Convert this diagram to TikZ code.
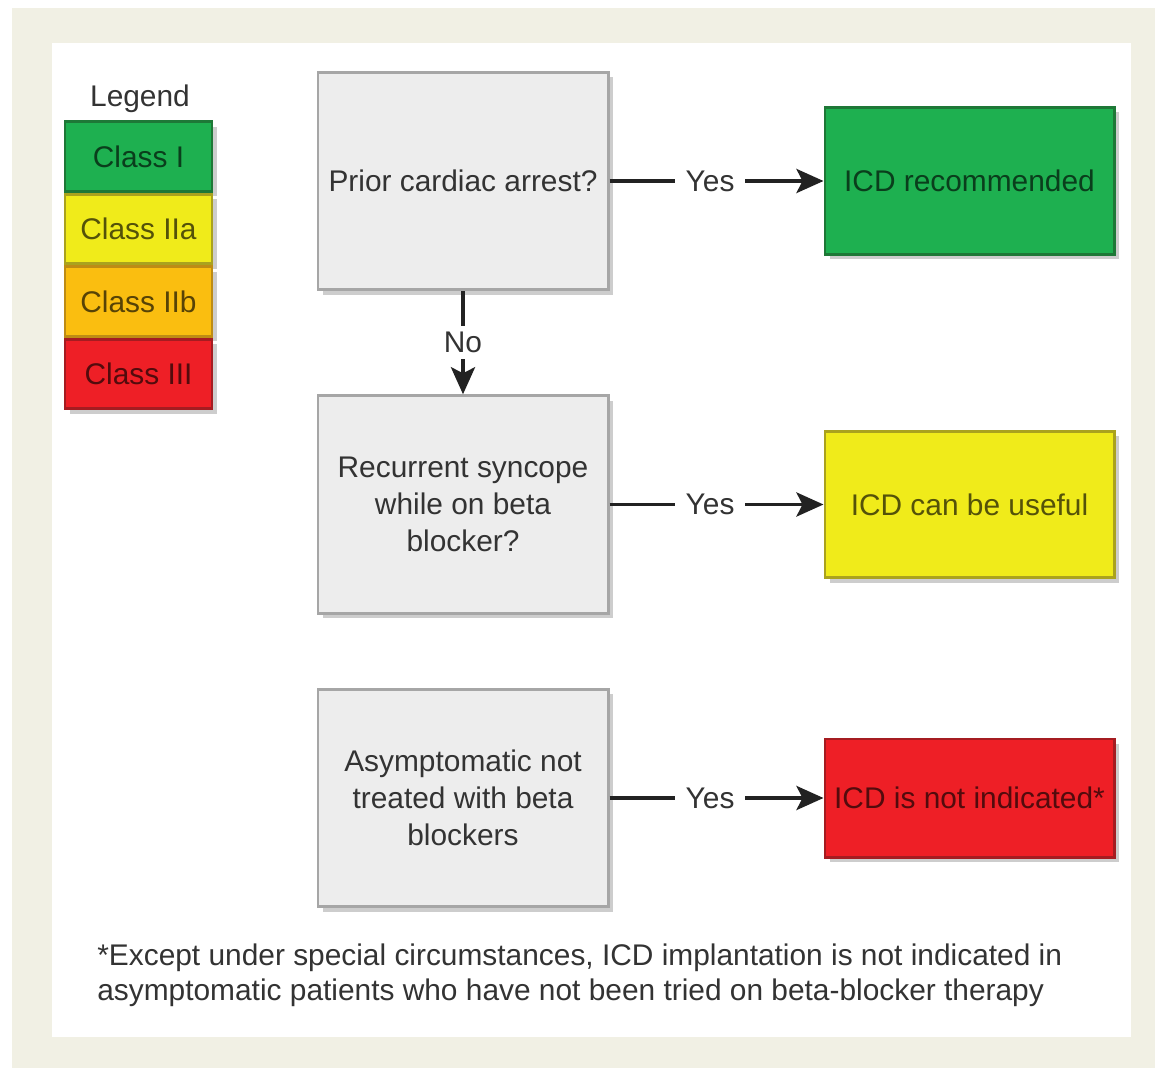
\documentclass[tikz,border=0pt]{standalone}
\usepackage{fontspec}
\setmainfont{Liberation Sans}
\usepackage{xcolor}
\definecolor{bgbeige}{RGB}{241,240,228}
\definecolor{clsgreen}{RGB}{30,176,80}
\definecolor{clsgreenline}{RGB}{30,120,55}
\definecolor{clsyellow}{RGB}{240,235,26}
\definecolor{clsyellowline}{RGB}{170,162,30}
\definecolor{clsorange}{RGB}{250,190,16}
\definecolor{clsorangeline}{RGB}{190,140,20}
\definecolor{clsred}{RGB}{238,31,38}
\definecolor{clsredline}{RGB}{165,28,33}
\definecolor{boxfill}{RGB}{237,237,237}
\definecolor{boxline}{RGB}{166,166,166}
\definecolor{shadowgray}{RGB}{205,205,205}
\definecolor{txtgray}{RGB}{51,51,51}
\definecolor{linedark}{RGB}{34,34,34}
\usepackage{tikz}
\usetikzlibrary{arrows.meta, positioning, shadows}

\tikzset{
  boxshadow/.style={drop shadow={shadow xshift=0.1cm, shadow yshift=-0.1cm, fill=shadowgray, opacity=1}},
  question/.style={draw=boxline, fill=boxfill, line width=1.7pt, minimum width=5.8cm,
    minimum height=4.35cm, align=center, text=txtgray, font=\fontsize{17}{21}\selectfont, boxshadow},
  outcome/.style={draw=#1line, fill=#1, line width=1.7pt, minimum width=5.78cm,
    inner xsep=2pt, align=center, text=#1!35!black, font=\fontsize{17}{21}\selectfont, boxshadow},
  legbox/.style={draw=#1line, fill=#1, line width=1.7pt, minimum width=2.94cm,
    minimum height=1.39cm, text=#1!35!black, font=\fontsize{17}{21}\selectfont, boxshadow},
  flow/.style={draw=linedark, line width=2.2pt, -{Stealth[length=0.54cm, width=0.48cm, inset=0.12cm]}},
  answer/.style={fill=white, text=txtgray, font=\fontsize{17}{21}\selectfont, inner xsep=0.22cm, inner ysep=0.1cm}
}

\begin{document}
\begin{tikzpicture}
  \useasboundingbox (0,0) rectangle (23.1,21.38);

  % Background
  \fill[bgbeige] (0.24,0.02) rectangle (23.1,21.22);
  \fill[white] (1.04,0.64) rectangle (22.62,20.52);

  % Legend
  \node[text=txtgray, font=\fontsize{17}{21}\selectfont] (legend) at (2.8,19.4) {Legend};
  \node[legbox=clsgreen] (cls1) at (2.77,18.25) {Class I};
  \node[legbox=clsyellow, below=0cm of cls1] (cls2a) {Class IIa};
  \node[legbox=clsorange, below=0cm of cls2a] (cls2b) {Class IIb};
  \node[legbox=clsred, below=0cm of cls2b] (cls3) {Class III};

  % Questions
  \node[question] (arrest) at (9.26,17.76) {Prior cardiac arrest?};
  \node[question] (syncope) at (9.26,11.29) {Recurrent syncope\\while on beta\\blocker?};
  \node[question] (asympt) at (9.26,5.42) {Asymptomatic not\\treated with beta\\blockers};

  % Outcomes
  \node[outcome=clsgreen, minimum height=2.94cm, right=4.28cm of arrest] (icdrec) {ICD recommended};
  \node[outcome=clsyellow, minimum height=2.92cm, right=4.28cm of syncope] (icduse) {ICD can be useful};
  \node[outcome=clsred, minimum height=2.36cm, right=4.28cm of asympt] (icdnot) {ICD is not indicated*};

  % Connectors
  \draw[flow] (arrest) -- node[answer, pos=0.47] {Yes} (icdrec);
  \draw[flow] (syncope) -- node[answer, pos=0.47] {Yes} (icduse);
  \draw[flow] (asympt) -- node[answer, pos=0.47] {Yes} (icdnot);
  \draw[flow] (arrest) -- node[answer, inner xsep=0.1cm, inner ysep=0.12cm] {No} (syncope);

  % Footnote
  \node[anchor=west, align=left, text=txtgray, font=\fontsize{17}{20}\selectfont, inner sep=0pt] (note) at (1.94,1.87)
    {*Except under special circumstances, ICD implantation is not indicated in\\asymptomatic patients who have not been tried on beta-blocker therapy};
\end{tikzpicture}
\end{document}
